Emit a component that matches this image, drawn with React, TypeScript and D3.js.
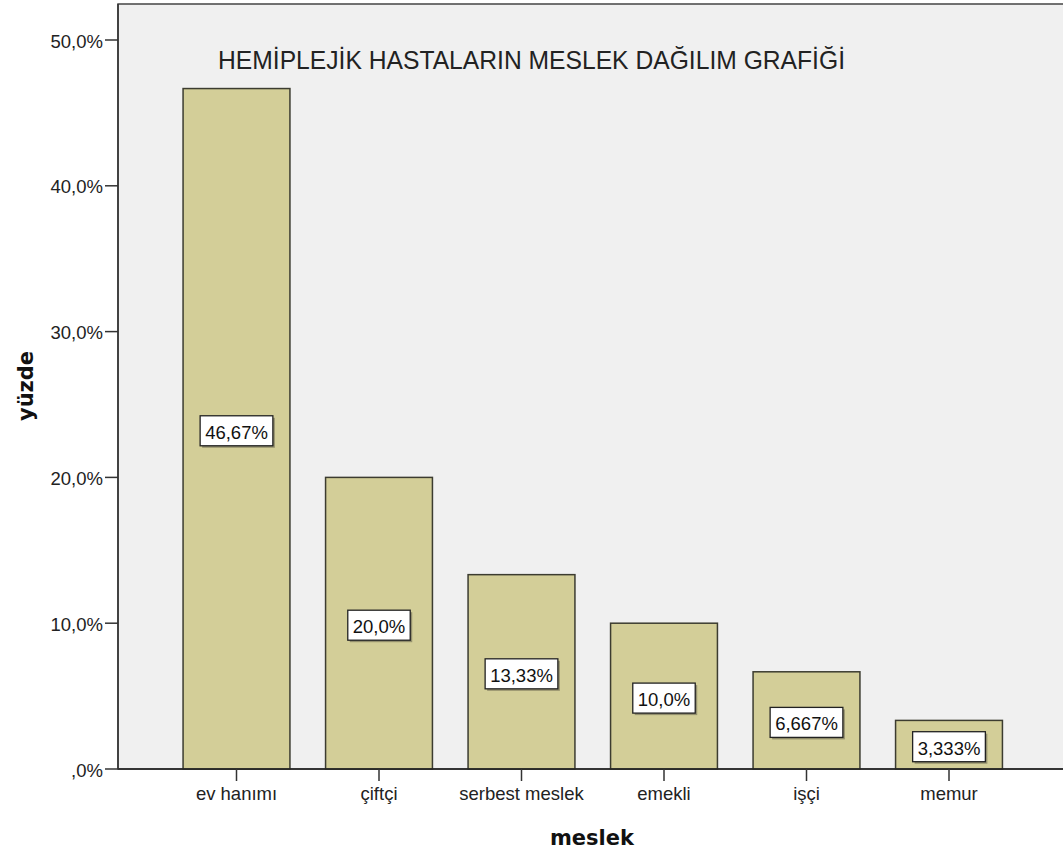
import React from "react";
import * as d3 from "d3";

const width = 1063;
const height = 853;
const margin = { top: 4, right: 0, bottom: 84, left: 118 };

const categories = ["ev hanımı", "çiftçi", "serbest meslek", "emekli", "işçi", "memur"];
const values = [46.67, 20.0, 13.33, 10.0, 6.667, 3.333];
const valueLabels = ["46,67%", "20,0%", "13,33%", "10,0%", "6,667%", "3,333%"];
const yTicks = [0, 10, 20, 30, 40, 50];
const yTickLabels = [",0%", "10,0%", "20,0%", "30,0%", "40,0%", "50,0%"];

const title = "HEMİPLEJİK HASTALARIN MESLEK DAĞILIM GRAFİĞİ";
const font = "'Liberation Sans', Arial, sans-serif";
const boldFont = "'DejaVu Sans', Verdana, sans-serif";
const labelSize = 18.5;

// rough Arial widths (em) for the label box
const charW = (ch) => (ch === "," ? 0.278 : ch === "%" ? 0.889 : 0.556);
const textWidth = (s) => s.split("").reduce((a, c) => a + charW(c), 0) * labelSize;

export default function App() {
  const plotBottom = 769;
  const yScale = d3.scaleLinear().domain([0, 50]).range([plotBottom, 40]);
  const xScale = d3
    .scaleBand()
    .domain(categories)
    .range([165.25, 1020.25])
    .paddingInner(0.25)
    .paddingOuter(0.125);

  return (
    <svg
      width={width}
      height={height}
      style={{ position: "absolute", left: 0, top: 0, background: "#fff" }}
    >
      {/* plot background */}
      <rect
        x={margin.left}
        y={margin.top}
        width={width - margin.left + 2}
        height={plotBottom - margin.top}
        fill="#f0f0f0"
        stroke="#444"
        strokeWidth={1.5}
      />

      <text
        x={218}
        y={69}
        fontFamily={font}
        fontSize={26}
        fill="#222"
        textLength={627}
        lengthAdjust="spacingAndGlyphs"
      >
        {title}
      </text>

      {/* bars */}
      {categories.map((c, i) => (
        <rect
          key={c}
          x={xScale(c)}
          y={yScale(values[i])}
          width={xScale.bandwidth()}
          height={yScale(0) - yScale(values[i])}
          fill="#d3ce98"
          stroke="#3c3c30"
          strokeWidth={1.5}
        />
      ))}

      {/* bar labels */}
      {categories.map((c, i) => {
        const cx = xScale(c) + xScale.bandwidth() / 2;
        const cy = yScale(values[i] / 2) + 2;
        const w = textWidth(valueLabels[i]) + 10;
        const h = 30;
        return (
          <g key={"l" + c}>
            <rect x={cx - w / 2 + 2} y={cy - h / 2 + 2} width={w} height={h} fill="#6b6850" opacity={0.6} />
            <rect x={cx - w / 2} y={cy - h / 2} width={w} height={h} fill="#fff" stroke="#222" strokeWidth={1.3} />
            <text
              x={cx}
              y={cy + 8}
              textAnchor="middle"
              fontFamily={font}
              fontSize={labelSize}
              fill="#111"
            >
              {valueLabels[i]}
            </text>
          </g>
        );
      })}

      {/* x axis */}
      <line x1={margin.left} x2={width} y1={plotBottom} y2={plotBottom} stroke="#222" strokeWidth={1.5} />
      {categories.map((c) => {
        const cx = xScale(c) + xScale.bandwidth() / 2;
        return (
          <g key={"t" + c}>
            <line x1={cx} x2={cx} y1={plotBottom} y2={781} stroke="#333" strokeWidth={1.5} />
            <text x={cx} y={800} textAnchor="middle" fontFamily={font} fontSize={labelSize} fill="#222">
              {c}
            </text>
          </g>
        );
      })}

      {/* y axis */}
      <line x1={margin.left} x2={margin.left} y1={margin.top} y2={plotBottom} stroke="#333" strokeWidth={1.5} />
      {yTicks.map((t, i) => (
        <g key={"y" + t}>
          <line x1={105} x2={margin.left} y1={yScale(t)} y2={yScale(t)} stroke="#333" strokeWidth={1.5} />
          <text
            x={103}
            y={yScale(t) + 7.5}
            textAnchor="end"
            fontFamily={font}
            fontSize={labelSize}
            fill="#222"
          >
            {yTickLabels[i]}
          </text>
        </g>
      ))}

      <text
        transform="translate(33,386) rotate(-90)"
        textAnchor="middle"
        fontFamily={boldFont}
        fontSize={21}
        fontWeight="bold"
        fill="#111"
      >
        yüzde
      </text>
      <text
        x={592}
        y={845}
        textAnchor="middle"
        fontFamily={boldFont}
        fontSize={21}
        fontWeight="bold"
        fill="#111"
      >
        meslek
      </text>
    </svg>
  );
}
